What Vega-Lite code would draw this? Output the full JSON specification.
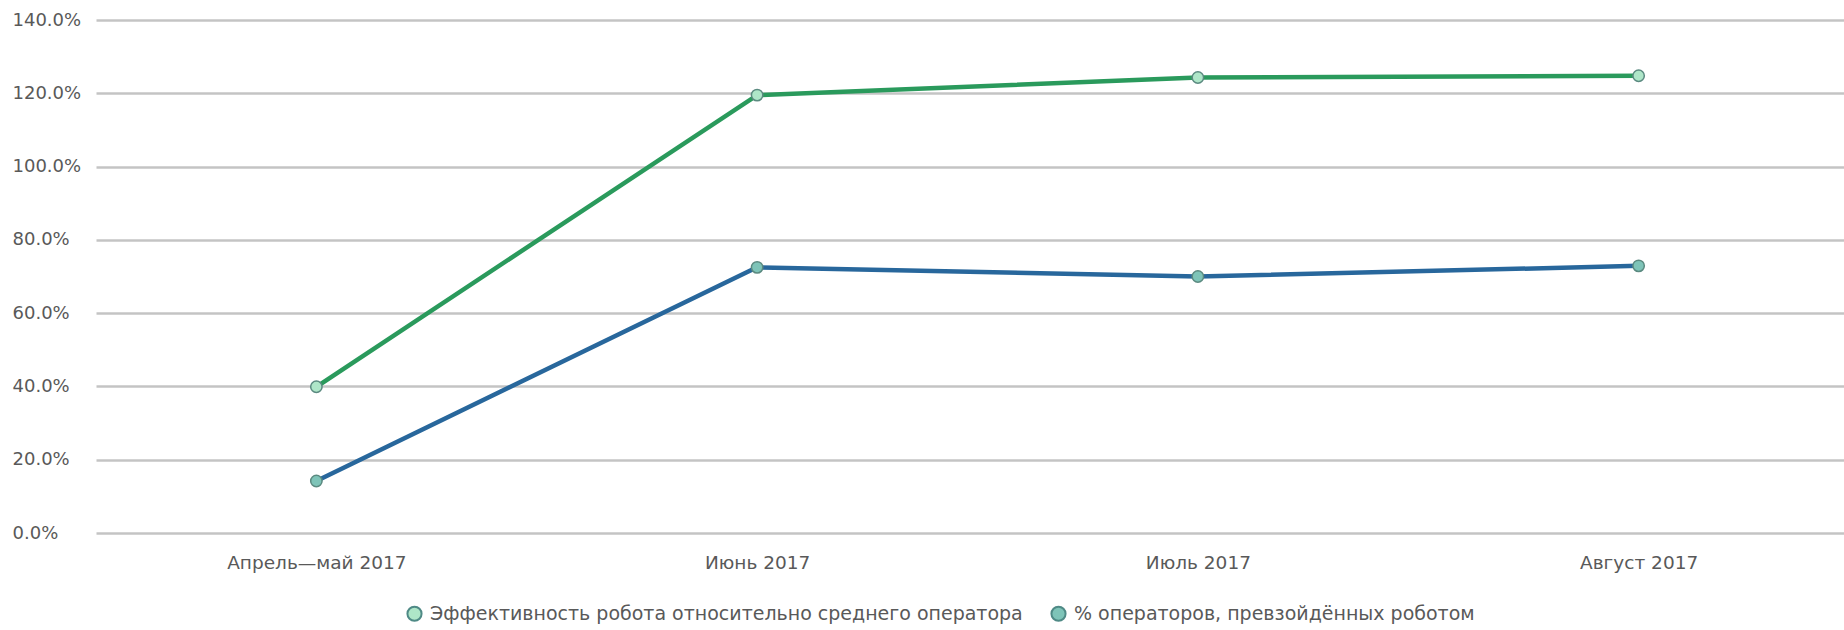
{
  "$schema": "https://vega.github.io/schema/vega-lite/v6.json",
  "width": 1763,
  "height": 513,
  "autosize": "none",
  "padding": {"left": 96, "top": 20, "right": -15, "bottom": 97},
  "background": "white",
  "config": {"view": {"stroke": null}},
  "data": {
    "values": [
      {"month": "Апрель—май 2017", "series": "Эффективность робота относительно среднего оператора", "value": 0.399},
      {"month": "Июнь 2017", "series": "Эффективность робота относительно среднего оператора", "value": 1.195},
      {"month": "Июль 2017", "series": "Эффективность робота относительно среднего оператора", "value": 1.243},
      {"month": "Август 2017", "series": "Эффективность робота относительно среднего оператора", "value": 1.248},
      {"month": "Апрель—май 2017", "series": "% операторов, превзойдённых роботом", "value": 0.142},
      {"month": "Июнь 2017", "series": "% операторов, превзойдённых роботом", "value": 0.725},
      {"month": "Июль 2017", "series": "% операторов, превзойдённых роботом", "value": 0.700},
      {"month": "Август 2017", "series": "% операторов, превзойдённых роботом", "value": 0.729}
    ]
  },
  "encoding": {
    "x": {
      "field": "month", "type": "nominal", "sort": null,
      "scale": {"type": "point", "padding": 0.5},
      "axis": {"title": null, "labelAngle": 0, "domain": false, "ticks": false, "labelPadding": 20,
               "labelFont": "DejaVu Sans", "labelFontSize": 18.5, "labelColor": "#595959"}
    },
    "y": {
      "field": "value", "type": "quantitative",
      "scale": {"domain": [0, 1.4], "nice": false},
      "axis": {"title": null, "format": ".1%", "values": [0, 0.2, 0.4, 0.6, 0.8, 1.0, 1.2, 1.4],
               "domain": false, "ticks": false, "labelAlign": "left", "labelPadding": 84,
               "labelFont": "DejaVu Sans", "labelFontSize": 18, "labelColor": "#595959",
               "gridColor": "#c4c4c4", "gridWidth": 2.5, "labelBaseline": "middle"}
    }
  },
  "layer": [
    {
      "mark": {"type": "line", "strokeWidth": 4.5},
      "encoding": {
        "stroke": {
          "field": "series", "type": "nominal", "legend": null,
          "scale": {"domain": ["Эффективность робота относительно среднего оператора", "% операторов, превзойдённых роботом"],
                    "range": ["#2a9a5c", "#28679c"]}
        }
      }
    },
    {
      "mark": {"type": "circle", "size": 130, "stroke": "#5b8a80", "strokeWidth": 1.5, "opacity": 1},
      "encoding": {
        "fill": {
          "field": "series", "type": "nominal",
          "scale": {"domain": ["Эффективность робота относительно среднего оператора", "% операторов, превзойдённых роботом"],
                    "range": ["#aee6c8", "#7ec4b8"]},
          "legend": {
            "title": null, "orient": "none", "direction": "horizontal",
            "legendX": 309, "legendY": 584,
            "symbolType": "circle", "symbolSize": 200, "symbolStrokeColor": "#4f8a86", "symbolStrokeWidth": 2,
            "labelFont": "DejaVu Sans", "labelFontSize": 19, "labelColor": "#595959",
            "labelLimit": 800, "columnPadding": 24, "labelOffset": 6
          }
        }
      }
    }
  ],
  "resolve": {"scale": {"stroke": "independent", "fill": "independent"}, "legend": {"fill": "independent", "stroke": "independent"}}
}
